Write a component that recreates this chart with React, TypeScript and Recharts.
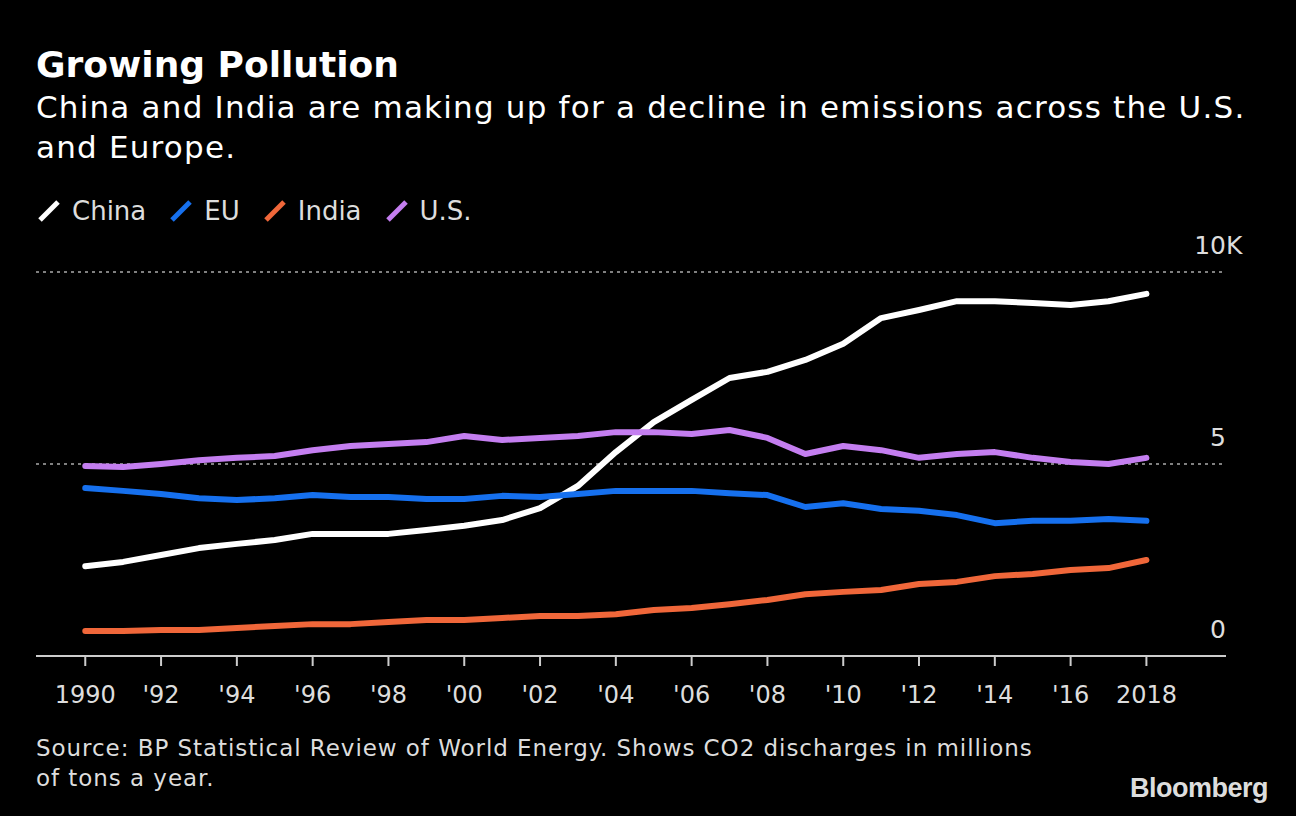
import React from 'react'
import { LineChart, Line, XAxis, YAxis, ReferenceLine } from 'recharts'

const years = [
  1990, 1991, 1992, 1993, 1994, 1995, 1996, 1997, 1998, 1999, 2000, 2001, 2002, 2003, 2004,
  2005, 2006, 2007, 2008, 2009, 2010, 2011, 2012, 2013, 2014, 2015, 2016, 2017, 2018,
]

const china = [
  2340, 2450, 2630, 2810, 2920, 3020, 3180, 3180, 3180, 3280, 3390, 3540, 3850, 4430, 5310,
  6090, 6670, 7240, 7400, 7710, 8130, 8800, 9010, 9240, 9240, 9190, 9140, 9240, 9430,
]

const eu = [
  4375, 4300, 4220, 4110, 4060, 4110, 4190, 4140, 4140, 4090, 4090, 4170, 4140, 4220, 4300,
  4300, 4300, 4240, 4190, 3880, 3980, 3830, 3780, 3670, 3460, 3520, 3520, 3570, 3520,
]

const india = [
  650, 650, 680, 680, 730, 780, 830, 830, 885, 940, 940, 990, 1040, 1040, 1090,
  1200, 1250, 1350, 1460, 1610, 1670, 1720, 1875, 1930, 2080, 2135, 2240, 2290, 2500,
]

const us = [
  4950, 4920, 5000, 5100, 5160, 5210, 5360, 5470, 5520, 5570, 5730, 5625, 5680, 5730, 5830,
  5830, 5780, 5885, 5680, 5260, 5470, 5360, 5160, 5260, 5310, 5160, 5050, 5000, 5160,
]

const xTicks = [1990, 1992, 1994, 1996, 1998, 2000, 2002, 2004, 2006, 2008, 2010, 2012, 2014, 2016, 2018]
const yTicks = [0, 5000, 10000]
const yLabels = ['0', '5', '10']

const series = [
  { key: 'china', name: 'China', color: '#ffffff' },
  { key: 'eu', name: 'EU', color: '#1670ee' },
  { key: 'india', name: 'India', color: '#f0673a' },
  { key: 'us', name: 'U.S.', color: '#c47ef0' },
]

const data = years.map((year, i) => ({
  year,
  china: china[i],
  eu: eu[i],
  india: india[i],
  us: us[i],
}))

const font = '"DejaVu Sans", sans-serif'

function yearLabel(y: number) {
  if (y === 1990 || y === 2018) return String(y)
  return "'" + String(y).slice(2)
}

// value label sits above its gridline, right-aligned to the plot edge; the "K" hangs past it
function gridLabel(text: string, unit: boolean) {
  return (props: any) => {
    const vb = props.viewBox || {}
    const x = (vb.x || 0) + (vb.width || 0)
    const y = (vb.y || 0) - 18
    return (
      <g>
        <text x={x} y={y} textAnchor="end" fill="#dddddd" fontSize={25} fontFamily={font}>
          {text}
        </text>
        {unit && (
          <text x={x} y={y} textAnchor="start" fill="#dddddd" fontSize={25} fontFamily={font}>
            K
          </text>
        )}
      </g>
    )
  }
}

function Slash({ color }: { color: string }) {
  return (
    <svg width={26} height={26} style={{ marginRight: 10 }}>
      <line x1={4} y1={22} x2={22} y2={4} stroke={color} strokeWidth={5} strokeLinecap="butt" />
    </svg>
  )
}

export default function App() {
  return (
    <div
      style={{
        position: 'absolute',
        left: 0,
        top: 0,
        width: 1296,
        height: 816,
        background: '#000000',
        overflow: 'hidden',
        color: '#ffffff',
      }}
    >
      <div
        style={{
          position: 'absolute',
          left: 36,
          top: 44,
          fontFamily: font,
          fontWeight: 700,
          fontSize: 36,
          lineHeight: '42px',
        }}
      >
        Growing Pollution
      </div>
      <div
        style={{
          position: 'absolute',
          left: 36,
          top: 87,
          width: 1252,
          fontFamily: font,
          fontSize: 31,
          letterSpacing: 1.2,
          lineHeight: '40px',
        }}
      >
        China and India are making up for a decline in emissions across the U.S. and Europe.
      </div>

      <div style={{ position: 'absolute', left: 36, top: 196, display: 'flex', alignItems: 'center' }}>
        {series.map((s) => (
          <div
            key={s.key}
            style={{
              display: 'flex',
              alignItems: 'center',
              marginRight: 22,
              fontFamily: font,
              fontSize: 26,
              color: '#dddddd',
            }}
          >
            <Slash color={s.color} />
            {s.name}
          </div>
        ))}
      </div>

      <div style={{ position: 'absolute', left: 0, top: 0 }}>
        <LineChart width={1296} height={816} data={data} margin={{ top: 272, right: 70, bottom: 100, left: 36 }}>
          <XAxis
            dataKey="year"
            type="number"
            domain={[1988.7, 2020.1]}
            ticks={xTicks}
            tickFormatter={yearLabel}
            height={60}
            axisLine={{ stroke: '#cccccc', strokeWidth: 2 }}
            tickLine={{ stroke: '#cccccc', strokeWidth: 2 }}
            tickSize={10}
            tick={{ fill: '#dddddd', fontSize: 24, fontFamily: font, dy: 18 }}
            interval={0}
            allowDataOverflow
          />
          <YAxis hide domain={[0, 10000]} ticks={yTicks} allowDataOverflow />
          {yTicks.map((v, i) => (
            <ReferenceLine
              key={v}
              y={v}
              stroke={v === 0 ? 'none' : '#808080'}
              strokeWidth={2}
              strokeDasharray="3 4"
              label={gridLabel(yLabels[i], v === 10000)}
            />
          ))}
          {series.map((s) => (
            <Line
              key={s.key}
              dataKey={s.key}
              name={s.name}
              stroke={s.color}
              strokeWidth={6}
              strokeLinecap="round"
              strokeLinejoin="round"
              dot={false}
              type="linear"
              isAnimationActive={false}
            />
          ))}
        </LineChart>
      </div>

      <div
        style={{
          position: 'absolute',
          left: 36,
          top: 733,
          width: 1010,
          fontFamily: font,
          fontSize: 23,
          letterSpacing: 0.95,
          lineHeight: '30px',
          color: '#dddddd',
        }}
      >
        Source: BP Statistical Review of World Energy. Shows CO2 discharges in millions of tons a year.
      </div>
      <div
        style={{
          position: 'absolute',
          right: 28,
          top: 773,
          fontFamily: '"Liberation Sans", Arial, sans-serif',
          fontWeight: 700,
          fontSize: 27,
          color: '#dddddd',
          letterSpacing: -0.5,
        }}
      >
        Bloomberg
      </div>
    </div>
  )
}
